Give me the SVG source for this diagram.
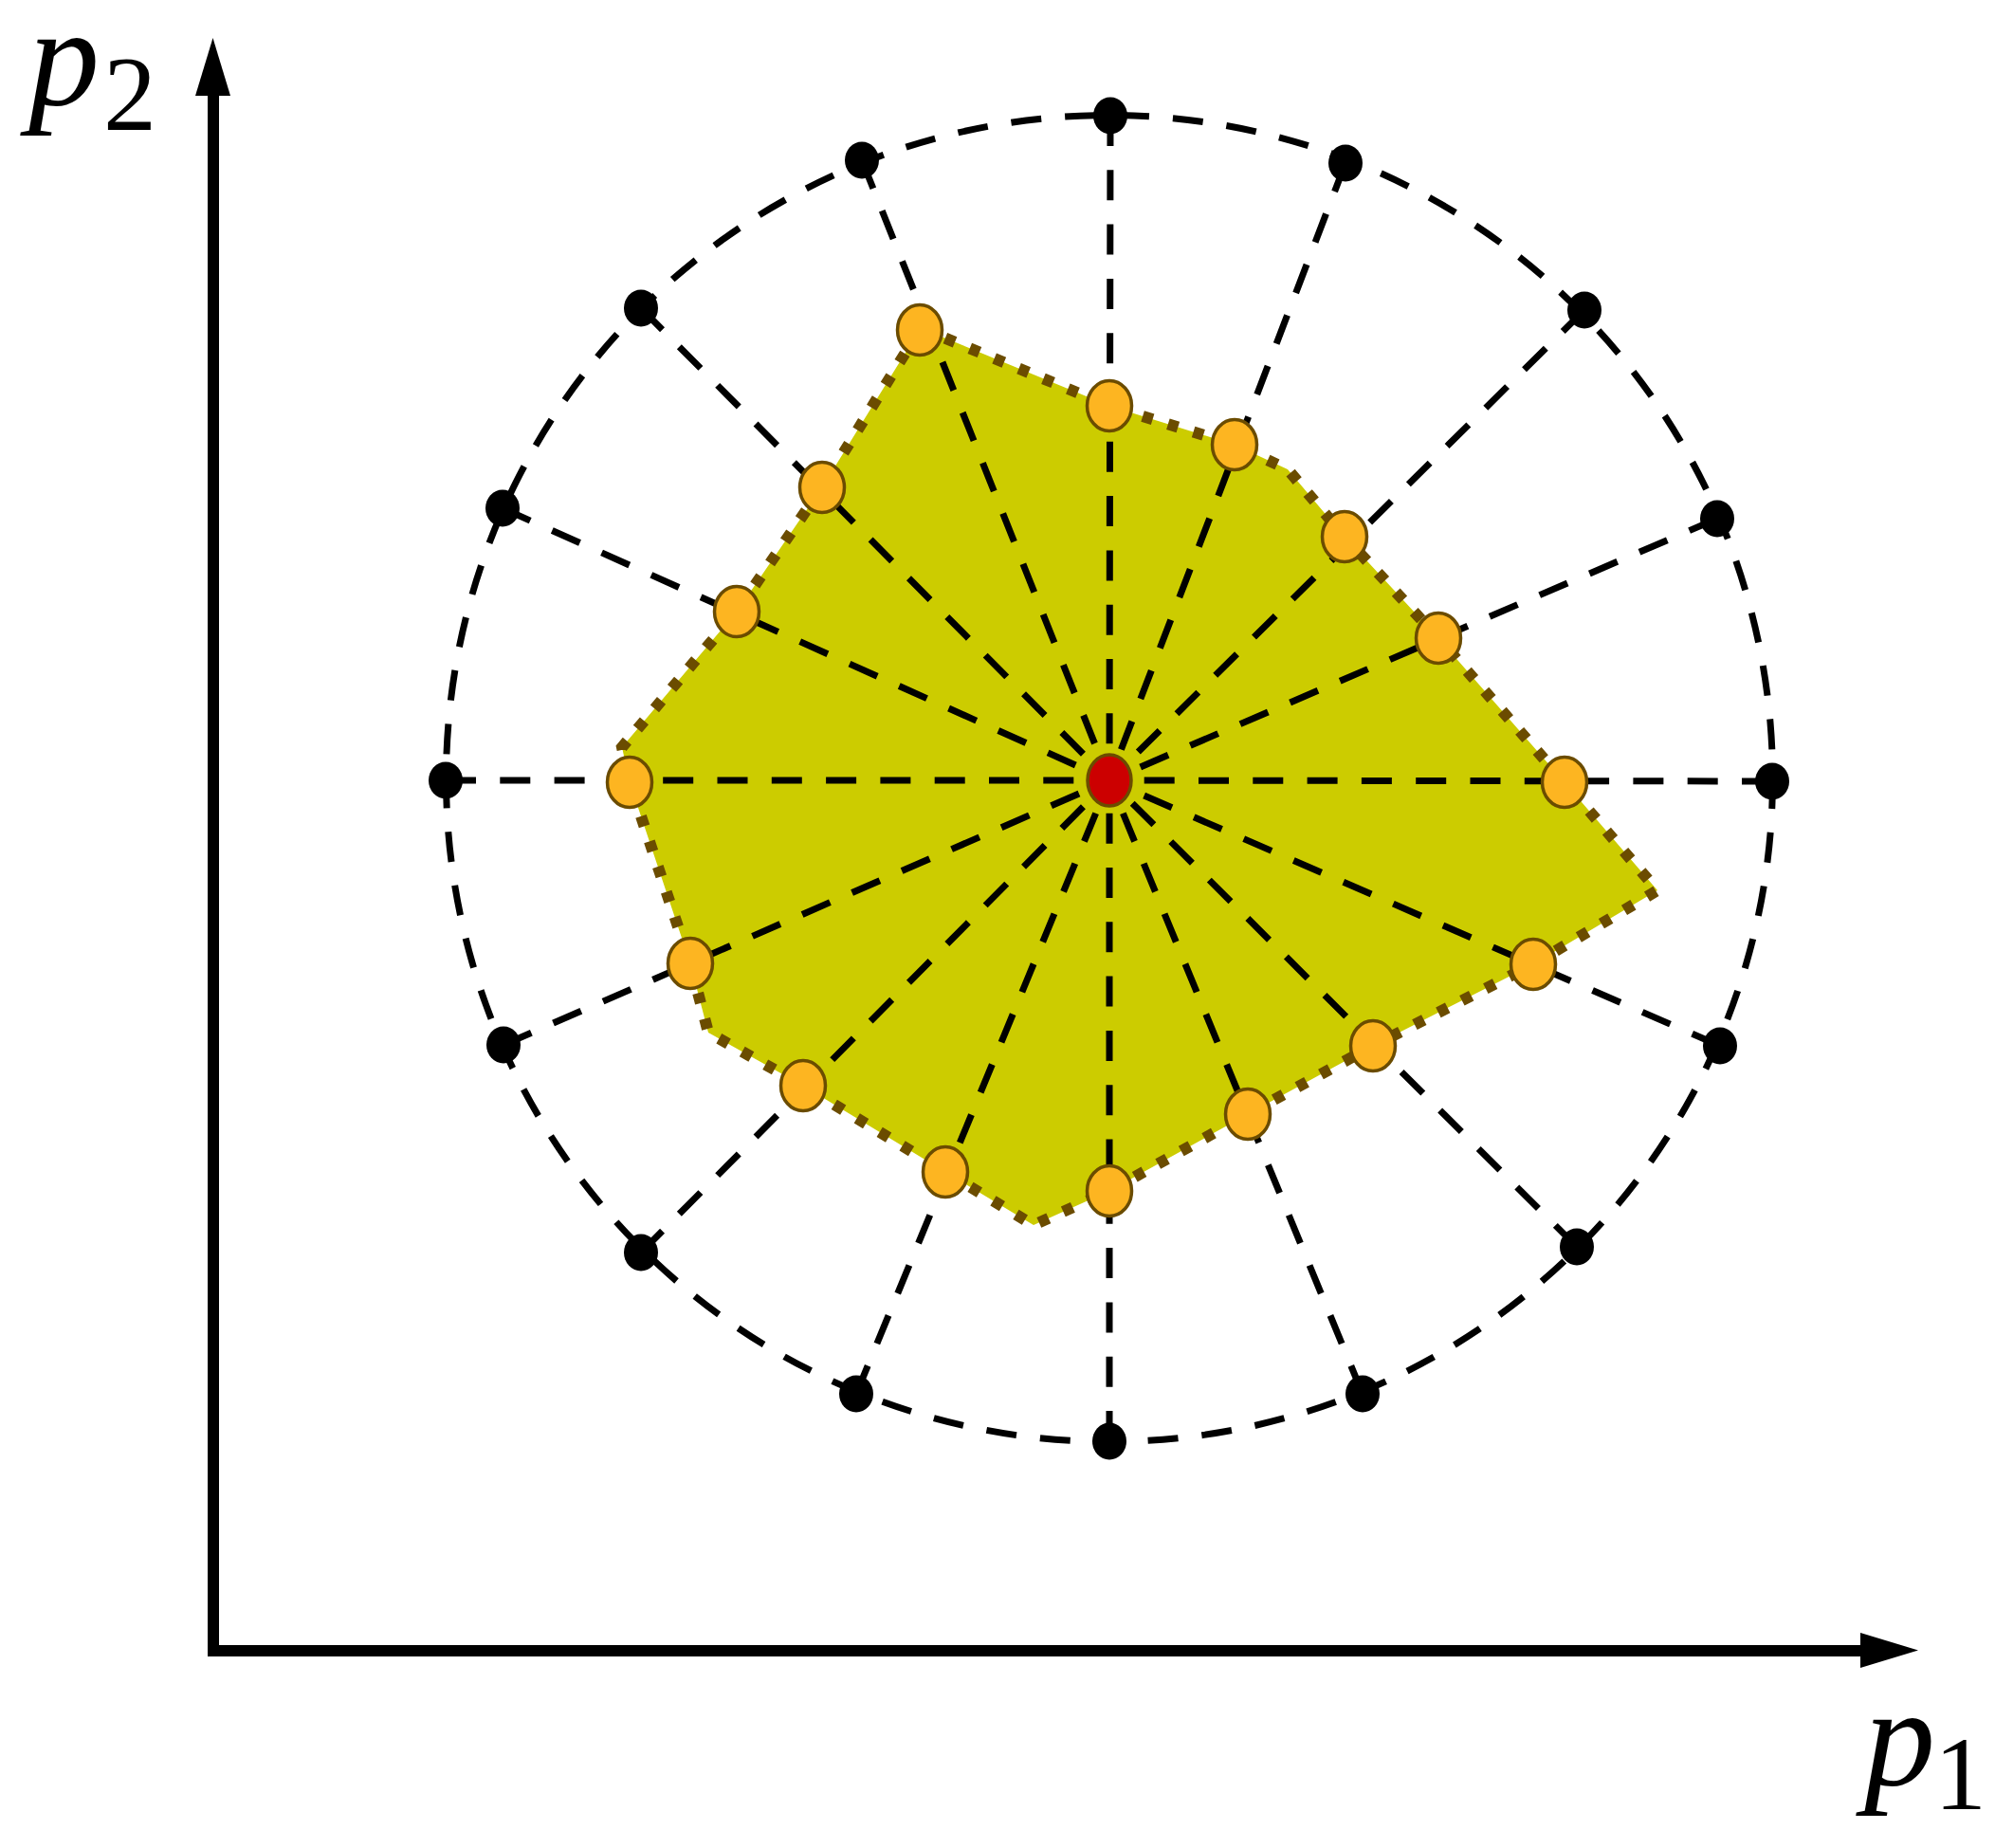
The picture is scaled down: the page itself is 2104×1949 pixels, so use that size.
<svg xmlns="http://www.w3.org/2000/svg" width="2104" height="1949" viewBox="0 0 2104 1949">
<style>
.ray{stroke:#000;stroke-width:7;stroke-dasharray:32 25.3;fill:none}
.circ{stroke:#000;stroke-width:7;stroke-dasharray:32 25;fill:none}
.bd{fill:#000}
.od{fill:#FDB521;stroke:#6B4C00;stroke-width:3.5}
.lbl{font-family:"Liberation Serif","DejaVu Serif",serif;fill:#000}
</style>
<rect width="2104" height="1949" fill="#fff"/>
<g id="axes">
<polyline points="225,100 225,1741 1965,1741" fill="none" stroke="#000" stroke-width="12" stroke-linejoin="miter"/>
<polygon points="224.5,40 206,101 243,101" fill="#000"/>
<polygon points="2023,1740.5 1962,1722 1962,1759" fill="#000"/>
<text class="lbl" x="30" y="111" font-size="150" font-style="italic">p</text>
<text class="lbl" x="109" y="137" font-size="112">2</text>
<text class="lbl" x="1966" y="1883" font-size="150" font-style="italic">p</text>
<text class="lbl" x="2040" y="1908" font-size="110">1</text>
</g>
<g id="circle">
<circle class="circ" cx="1170" cy="821" r="699.5"/>
</g>
<g id="region">
<polygon points="971,346 1170,428 1302,469 1358,495 1418,566 1517,673 1650,825 1748,939 1617,1017 1448,1103 1316,1175 1170,1256 1090,1292 997,1236 847,1145 747,1089 728,1016 664,825 656,788 777,645 867,514" fill="#CCCC00" stroke="#6B4C00" stroke-width="12" stroke-dasharray="11 17"/>
</g>
<g id="connectors">
<line class="ray" x1="1171" y1="122" x2="1170" y2="823"/>
<line class="ray" x1="1419" y1="172" x2="1170" y2="823"/>
<line class="ray" x1="1671" y1="327" x2="1170" y2="823"/>
<line class="ray" x1="1811" y1="547" x2="1170" y2="823"/>
<line class="ray" x1="1869" y1="824" x2="1170" y2="823"/>
<line class="ray" x1="1814" y1="1103" x2="1170" y2="823"/>
<line class="ray" x1="1663" y1="1315" x2="1170" y2="823"/>
<line class="ray" x1="1437" y1="1470" x2="1170" y2="823"/>
<line class="ray" x1="1170" y1="1520" x2="1170" y2="823"/>
<line class="ray" x1="903" y1="1470" x2="1170" y2="823"/>
<line class="ray" x1="676" y1="1321" x2="1170" y2="823"/>
<line class="ray" x1="531" y1="1102" x2="1170" y2="823"/>
<line class="ray" x1="470" y1="823" x2="1170" y2="823"/>
<line class="ray" x1="530" y1="536" x2="1170" y2="823"/>
<line class="ray" x1="676" y1="325" x2="1170" y2="823"/>
<line class="ray" x1="909" y1="169" x2="1170" y2="823"/>
</g>
<g id="outer-points">
<ellipse class="bd" cx="1171" cy="122" rx="18" ry="19.5"/>
<ellipse class="bd" cx="1419" cy="172" rx="18" ry="19.5"/>
<ellipse class="bd" cx="1671" cy="327" rx="18" ry="19.5"/>
<ellipse class="bd" cx="1811" cy="547" rx="18" ry="19.5"/>
<ellipse class="bd" cx="1869" cy="824" rx="18" ry="19.5"/>
<ellipse class="bd" cx="1814" cy="1103" rx="18" ry="19.5"/>
<ellipse class="bd" cx="1663" cy="1315" rx="18" ry="19.5"/>
<ellipse class="bd" cx="1437" cy="1470" rx="18" ry="19.5"/>
<ellipse class="bd" cx="1170" cy="1520" rx="18" ry="19.5"/>
<ellipse class="bd" cx="903" cy="1470" rx="18" ry="19.5"/>
<ellipse class="bd" cx="676" cy="1321" rx="18" ry="19.5"/>
<ellipse class="bd" cx="531" cy="1102" rx="18" ry="19.5"/>
<ellipse class="bd" cx="470" cy="823" rx="18" ry="19.5"/>
<ellipse class="bd" cx="530" cy="536" rx="18" ry="19.5"/>
<ellipse class="bd" cx="676" cy="325" rx="18" ry="19.5"/>
<ellipse class="bd" cx="909" cy="169" rx="18" ry="19.5"/>
</g>
<g id="boundary-points">
<ellipse class="od" cx="1170" cy="428" rx="23.5" ry="26.5"/>
<ellipse class="od" cx="1302" cy="469" rx="23.5" ry="26.5"/>
<ellipse class="od" cx="1418" cy="566" rx="23.5" ry="26.5"/>
<ellipse class="od" cx="1517" cy="673" rx="23.5" ry="26.5"/>
<ellipse class="od" cx="1650" cy="825" rx="23.5" ry="26.5"/>
<ellipse class="od" cx="1617" cy="1017" rx="23.5" ry="26.5"/>
<ellipse class="od" cx="1448" cy="1103" rx="23.5" ry="26.5"/>
<ellipse class="od" cx="1316" cy="1175" rx="23.5" ry="26.5"/>
<ellipse class="od" cx="1170" cy="1256" rx="23.5" ry="26.5"/>
<ellipse class="od" cx="997" cy="1236" rx="23.5" ry="26.5"/>
<ellipse class="od" cx="847" cy="1145" rx="23.5" ry="26.5"/>
<ellipse class="od" cx="728" cy="1016" rx="23.5" ry="26.5"/>
<ellipse class="od" cx="664" cy="825" rx="23.5" ry="26.5"/>
<ellipse class="od" cx="777" cy="645" rx="23.5" ry="26.5"/>
<ellipse class="od" cx="867" cy="514" rx="23.5" ry="26.5"/>
<ellipse class="od" cx="970" cy="348" rx="23.5" ry="26.5"/>
</g>
<g id="center">
<ellipse cx="1170" cy="823" rx="23" ry="27" fill="#CC0000" stroke="#6B4C00" stroke-width="3.5"/>
</g>
</svg>
